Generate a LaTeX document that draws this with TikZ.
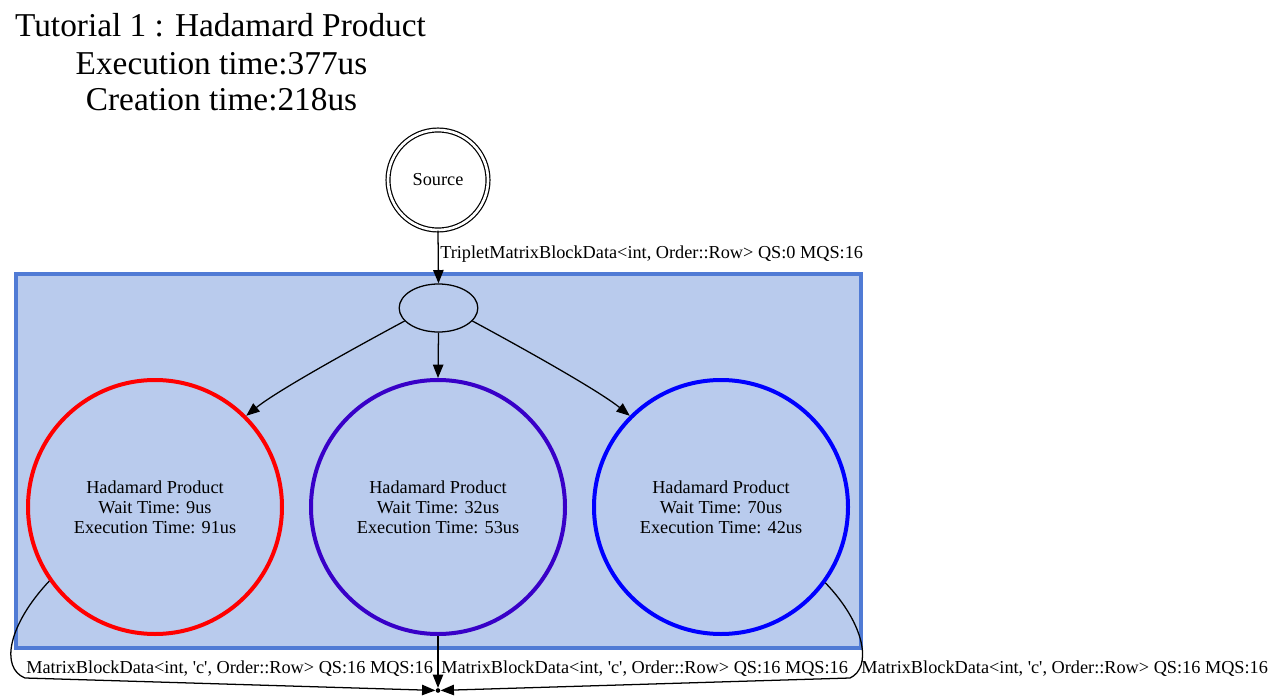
\documentclass[tikz,border=0pt]{standalone}
\usepackage{fontspec}
\setmainfont{Liberation Serif}[Ligatures=TeXOff]
\usetikzlibrary{arrows.meta,shapes.geometric}
\definecolor{clfill}{RGB}{185,203,237}
\definecolor{clborder}{RGB}{80,123,213}
\definecolor{hpred}{RGB}{255,0,0}
\definecolor{hppurple}{RGB}{56,0,200}
\definecolor{hpblue}{RGB}{0,0,255}
\begin{document}
\begin{tikzpicture}[x=0.75pt,y=-0.75pt,
  smallfont/.style={font=\fontsize{13.7}{15}\selectfont},
  lbl/.style={smallfont, inner sep=0pt, anchor=base west},
  titletext/.style={font=\fontsize{25}{28}\selectfont, inner sep=0pt, anchor=base},
  task/.style={circle, draw, line width=3pt, minimum size=190.5pt, inner sep=0pt, align=center, smallfont},
  edge/.style={line width=0.95pt, -{Triangle[length=10pt,width=7.8pt]}},
  ]
\useasboundingbox (0,0) rectangle (1272,699);
% title
\node[titletext] (t1) at (220.5,37) {Tutorial 1 : Hadamard Product};
\node[titletext] (t2) at (221.5,74.5) {Execution time:377us};
\node[titletext] (t3) at (221.5,111) {Creation time:218us};
% cluster
\draw[line width=3pt, draw=clborder, fill=clfill] (16,273.7) rectangle (860.7,648);
% nodes
\node[circle, draw, double, double distance=2pt, line width=0.9pt, minimum size=75pt, inner sep=0pt, smallfont] (src) at (438,180) {Source};
\node[ellipse, draw, line width=0.95pt, minimum width=59pt, minimum height=36pt, inner sep=0pt] (ell) at (438.5,308) {};
\node[task, draw=hpred] (h9) at (155,507) {Hadamard Product\\Wait Time: 9us\\Execution Time: 91us};
\node[task, draw=hppurple] (h32) at (438,507) {Hadamard Product\\Wait Time: 32us\\Execution Time: 53us};
\node[task, draw=hpblue] (h70) at (721,507) {Hadamard Product\\Wait Time: 70us\\Execution Time: 42us};
\node[circle, fill, inner sep=0pt, minimum size=3.5pt] (sink) at (438,690.5) {};
% edges
\draw[edge] (src.south) -- (ell.north);
\node[lbl] (l0) at (440,258) {TripletMatrixBlockData<int, Order::Row> QS:0 MQS:16};
\draw[edge] (ell.201) .. controls (360,345) and (278,390) .. (h9.45);
\draw[edge] (ell.south) -- (h32.north);
\draw[edge] (ell.339) .. controls (517,345) and (598,390) .. (h70.135);
\draw[edge] (h9.215) .. controls (8,625) and (0,668) .. (25,678) -- (sink);
\draw[edge] (h32.south) -- (sink);
\draw[edge] (h70.-36) .. controls (866,625) and (872,668) .. (850,678) -- (sink);
\node[lbl] (l1) at (26,673) {MatrixBlockData<int, 'c', Order::Row> QS:16 MQS:16};
\node[lbl] (l2) at (441,673) {MatrixBlockData<int, 'c', Order::Row> QS:16 MQS:16};
\node[lbl] (l3) at (861,673) {MatrixBlockData<int, 'c', Order::Row> QS:16 MQS:16};
\end{tikzpicture}
\end{document}
